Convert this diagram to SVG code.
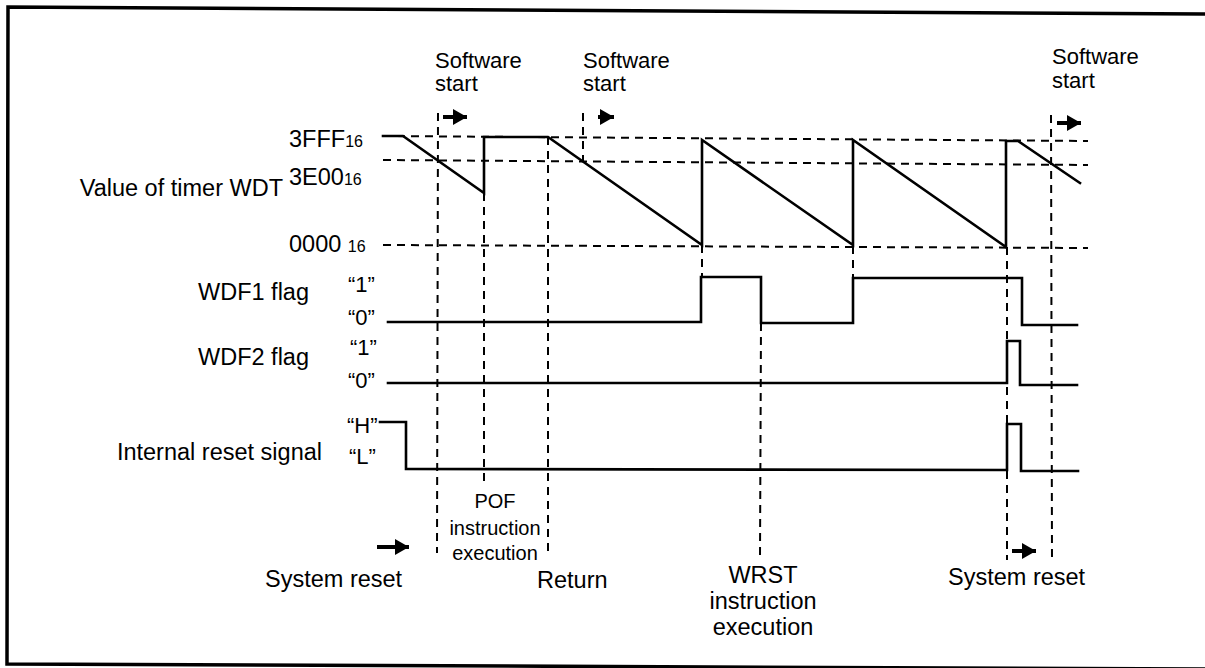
<svg xmlns="http://www.w3.org/2000/svg" width="1205" height="668" viewBox="0 0 1205 668">
<style>
text{font-family:"Liberation Sans",Arial,sans-serif;fill:#000}
.lbl{font-size:23.5px}
.sw{font-size:22px}
.q{font-size:22px}
.sm{font-size:20px}
.sub{font-size:16px}
.sig{fill:none;stroke:#000;stroke-width:2.6;stroke-linejoin:miter;stroke-linecap:square}
.dash{fill:none;stroke:#000;stroke-width:2;stroke-dasharray:8 6}
.frame{fill:none;stroke:#000;stroke-width:3.5}
.shaft{stroke:#000;stroke-width:4;fill:none}
</style>
<defs>
<marker id="ah" markerUnits="userSpaceOnUse" markerWidth="15" markerHeight="16" refX="14" refY="8" orient="auto" viewBox="0 0 15 16">
<path d="M0,0 L14,8 L0,16 Z" fill="#000"/>
</marker>
</defs>
<rect width="1205" height="668" fill="#fff"/>
<g id="frame">
<path class="frame" d="M1205,14 L8,7 L7,664 L1205,669"/>
</g>
<g id="connectors">
<g id="guides-horizontal">
<line class="dash" x1="383" y1="136" x2="1088" y2="141"/>
<line class="dash" x1="383" y1="160" x2="1088" y2="165"/>
<line class="dash" x1="383" y1="245" x2="1088" y2="248"/>
</g>
<g id="guides-vertical">
<line class="dash" x1="438" y1="113" x2="437" y2="553"/>
<line class="dash" x1="484" y1="193" x2="484" y2="482"/>
<line class="dash" x1="548" y1="137" x2="548" y2="552"/>
<line class="dash" x1="583" y1="113" x2="583" y2="162"/>
<line class="dash" x1="702" y1="245" x2="702" y2="277"/>
<line class="dash" x1="761" y1="323" x2="760" y2="557"/>
<line class="dash" x1="853" y1="246" x2="853" y2="278"/>
<line class="dash" x1="1007" y1="247" x2="1007" y2="560"/>
<line class="dash" x1="1051" y1="115" x2="1052" y2="563"/>
</g>
<g id="arrows">
<line class="shaft" x1="443" y1="117" x2="467" y2="117" marker-end="url(#ah)"/>
<line class="shaft" x1="598" y1="117" x2="614" y2="117" marker-end="url(#ah)"/>
<line class="shaft" x1="1057" y1="123" x2="1081" y2="123" marker-end="url(#ah)"/>
<line class="shaft" x1="377" y1="547" x2="409" y2="547" marker-end="url(#ah)"/>
<line class="shaft" x1="1012" y1="551" x2="1036" y2="551" marker-end="url(#ah)"/>
</g>
</g>
<g id="signal-wdt">
<path class="sig" d="M383,136 L403,136 L484,193 L484,137 L548,137 L702,245 L702,140 L853,245 L853,140 L1006,247 L1006,141 L1018,141 L1080,183"/>
</g>
<g id="signal-wdf1">
<path class="sig" d="M388,322 L701,322 L701,277 L761,277 L761,323 L853,323 L853,278 L1022,278 L1022,325 L1077,325"/>
</g>
<g id="signal-wdf2">
<path class="sig" d="M388,383 L1007,383 L1007,341 L1020,341 L1020,385 L1077,385"/>
</g>
<g id="signal-reset">
<path class="sig" d="M380,422 L406,422 L406,469 L1007,470 L1007,424 L1021,424 L1021,471 L1078,471"/>
</g>
<g id="label-wdt">
<text class="lbl" x="283" y="196" text-anchor="end">Value of timer WDT</text>
<text class="lbl" x="289" y="147">3FFF<tspan class="sub">16</tspan></text>
<text class="lbl" x="289" y="185">3E00<tspan class="sub">16</tspan></text>
<text class="lbl" x="289" y="252">0000 <tspan class="sub">16</tspan></text>
</g>
<g id="label-wdf1">
<text class="lbl" x="309" y="300" text-anchor="end">WDF1 flag</text>
<text class="q" x="348" y="292">“1”</text>
<text class="q" x="348" y="325">“0”</text>
</g>
<g id="label-wdf2">
<text class="lbl" x="309" y="365" text-anchor="end">WDF2 flag</text>
<text class="q" x="350" y="355">“1”</text>
<text class="q" x="348" y="388">“0”</text>
</g>
<g id="label-reset">
<text class="lbl" x="322" y="460" text-anchor="end">Internal reset signal</text>
<text class="q" x="347" y="433">“H”</text>
<text class="q" x="349" y="464">“L”</text>
</g>
<g id="label-sw1">
<text class="sw" x="435" y="68">Software</text>
<text class="sw" x="435" y="91">start</text>
</g>
<g id="label-sw2">
<text class="sw" x="583" y="68">Software</text>
<text class="sw" x="583" y="91">start</text>
</g>
<g id="label-sw3">
<text class="sw" x="1052" y="64">Software</text>
<text class="sw" x="1052" y="88">start</text>
</g>
<g id="label-pof">
<text class="sm" x="495" y="508" text-anchor="middle">POF</text>
<text class="sm" x="495" y="535" text-anchor="middle">instruction</text>
<text class="sm" x="495" y="560" text-anchor="middle">execution</text>
</g>
<g id="label-sysreset1">
<text class="lbl" x="265" y="587">System reset</text>
</g>
<g id="label-return">
<text class="lbl" x="537" y="588">Return</text>
</g>
<g id="label-wrst">
<text class="lbl" x="763" y="583" text-anchor="middle">WRST</text>
<text class="lbl" x="763" y="609" text-anchor="middle">instruction</text>
<text class="lbl" x="763" y="635" text-anchor="middle">execution</text>
</g>
<g id="label-sysreset2">
<text class="lbl" x="948" y="585">System reset</text>
</g>
</svg>
